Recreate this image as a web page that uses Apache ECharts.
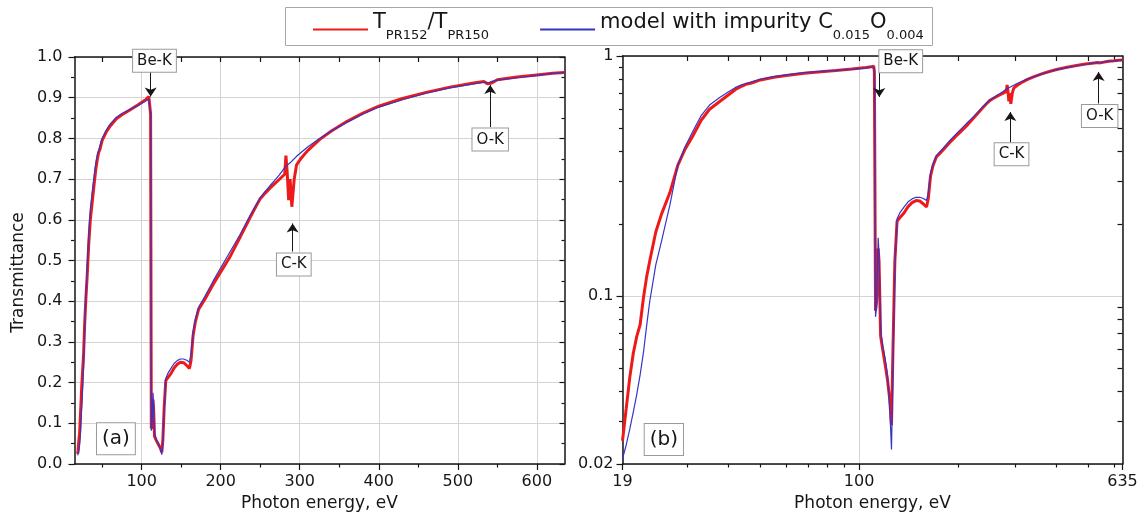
<!DOCTYPE html>
<html>
<head>
<meta charset="utf-8">
<script src="https://cdn.jsdelivr.net/npm/echarts@6/dist/echarts.min.js"></script>
<style>html,body{margin:0;padding:0;background:#fff}#c{width:1141px;height:513px}</style>
</head>
<body>
<div id="c"></div>
<script>
// ---- data ----
const energy = [19,19.5,20,20.5,21,21.5,22,22.5,23,24,25,26.5,28,29.5,31,33,35,37.5,40,42,44,45.5,47,50,55,60,68,75,85,95,105,109,110.8,111.3,112.2,113,114.3,115,116.3,118,120,122,124,125.5,126.8,128.5,130.5,133,137,141,145,149,153,157,160.5,162.5,165,168,172,180,190,200,212,224,237,244,250,256,262,268,274,281,282.5,284,286,287.8,290,293,296,302,310,325,340,360,380,400,430,460,490,520,533,538,543,550,575,600,620,635];
const measured = [0.025,0.034,0.046,0.058,0.068,0.076,0.098,0.12,0.14,0.185,0.22,0.27,0.35,0.41,0.46,0.54,0.60,0.645,0.69,0.725,0.75,0.765,0.772,0.795,0.815,0.83,0.848,0.858,0.87,0.882,0.895,0.903,0.906,0.86,0.087,0.095,0.158,0.14,0.068,0.06,0.052,0.045,0.037,0.029,0.06,0.14,0.205,0.212,0.222,0.236,0.245,0.25,0.249,0.242,0.235,0.255,0.315,0.35,0.38,0.405,0.44,0.472,0.51,0.555,0.605,0.631,0.652,0.665,0.677,0.688,0.699,0.712,0.758,0.72,0.648,0.70,0.632,0.70,0.735,0.752,0.77,0.797,0.818,0.842,0.862,0.879,0.898,0.913,0.926,0.936,0.94,0.934,0.936,0.944,0.951,0.956,0.96,0.962];
const model = [0.021,0.024,0.028,0.033,0.039,0.047,0.058,0.075,0.095,0.135,0.17,0.24,0.35,0.42,0.48,0.565,0.625,0.67,0.71,0.74,0.76,0.77,0.78,0.80,0.82,0.835,0.852,0.861,0.871,0.88,0.892,0.897,0.896,0.86,0.082,0.09,0.175,0.15,0.072,0.062,0.055,0.047,0.034,0.023,0.05,0.13,0.21,0.222,0.235,0.247,0.254,0.258,0.258,0.255,0.25,0.27,0.325,0.355,0.385,0.412,0.448,0.482,0.522,0.562,0.61,0.634,0.654,0.669,0.683,0.696,0.71,0.728,0.731,0.734,0.737,0.74,0.744,0.75,0.756,0.766,0.779,0.80,0.818,0.84,0.86,0.877,0.895,0.911,0.924,0.934,0.938,0.936,0.94,0.943,0.949,0.955,0.96,0.962];
const xTicksLin = [100,200,300,400,500,600];
const xMinorLin = [50,150,250,350,450,550];
const xTicksLog = [19,100,635];
const xMinorLog = [30,40,50,60,70,80,90,200,300,400,500,600];
const yTicksLog = [0.02,0.1,1];
const yMinorLog = [0.03,0.04,0.05,0.06,0.07,0.08,0.09,0.2,0.3,0.4,0.5,0.6,0.7,0.8,0.9];
const seriesNames = ['measured','model'];
// annotations: [label, box energy, box T, arrow energy, arrow from T, arrow to T]
const notesLin = [['Be-K',116.2,0.991,111.4,0.963,0.903],['C-K',292.5,0.49,291,0.522,0.591],['O-K',541,0.797,541,0.828,0.931]];
const notesLog = [['Be-K',133.9,0.95,115.2,0.863,0.675],['C-K',291.4,0.39,289,0.438,0.584],['O-K',541,0.562,537,0.634,0.858]];
const panelLin = ['(a)',67.4,0.062];
const panelLog = ['(b)',25.4,0.0253];

// ---- chart ----
const FONT = 'DejaVu Sans, Liberation Sans, Arial, sans-serif';
const INK = '#161616';
const pairsM = energy.map((e,i)=>[e,measured[i]]);
const pairsB = energy.map((e,i)=>[e,model[i]]);
const axLine = {show:true, lineStyle:{color:INK, width:1.5}};
const tickStyle = {color:INK, width:1.2};
const gridLine = {show:true, lineStyle:{color:'#d3d3d3', width:1}};
const nameStyle = {fontSize:17, color:INK, fontFamily:FONT};
const labStyle = {fontSize:16, color:INK, fontFamily:FONT};
const fmt = v => String(parseFloat(Number(v).toPrecision(4)));

function xAx(grid, type, min, max, pos, o) {
  return Object.assign({gridIndex:grid, type:type, min:min, max:max, position:pos,
    axisLine:{show:false}, axisLabel:{show:false}, splitLine:{show:false}}, o);
}

const xAxis = [
  xAx(0,'value',15,635,'bottom',{axisLine:axLine,
    axisTick:{customValues:xTicksLin,length:6,lineStyle:tickStyle},
    axisLabel:Object.assign({customValues:xTicksLin,margin:10,formatter:fmt},labStyle),
    splitLine:gridLine, name:'Photon energy, eV', nameLocation:'middle', nameGap:29, nameTextStyle:nameStyle}),
  xAx(0,'value',15,635,'bottom',{axisTick:{customValues:xMinorLin,length:3.5,lineStyle:tickStyle}}),
  xAx(0,'value',15,635,'top',{axisLine:axLine,
    axisTick:{customValues:xMinorLin.concat(xTicksLin),inside:true,length:5,lineStyle:tickStyle}}),
  xAx(1,'log',19,635,'bottom',{logBase:10, axisLine:axLine,
    axisTick:{customValues:xTicksLog,length:6,lineStyle:tickStyle},
    axisLabel:Object.assign({customValues:xTicksLog,margin:10,formatter:fmt},labStyle),
    splitLine:gridLine, name:'Photon energy, eV', nameLocation:'middle', nameGap:29, nameTextStyle:nameStyle}),
  xAx(1,'log',19,635,'bottom',{logBase:10, axisTick:{customValues:xMinorLog,length:3.5,lineStyle:tickStyle}}),
  xAx(1,'log',19,635,'top',{logBase:10, axisLine:axLine,
    axisTick:{customValues:xMinorLog.concat([100]),inside:true,length:5,lineStyle:tickStyle}})
];

const yAxis = [
  {gridIndex:0, type:'value', min:0, max:1, interval:0.1, position:'left', axisLine:axLine,
    axisTick:{length:6,lineStyle:tickStyle}, minorTick:{show:true,splitNumber:2,length:3.5,lineStyle:tickStyle},
    axisLabel:Object.assign({margin:12, formatter:v=>Number(v).toFixed(1)},labStyle),
    splitLine:gridLine, name:'Transmittance', nameLocation:'middle', nameGap:47,
    nameTextStyle:Object.assign({padding:[0,24,0,0]},nameStyle)},
  {gridIndex:0, type:'value', min:0, max:1, interval:0.1, position:'right', axisLine:axLine,
    axisTick:{inside:true,length:5,lineStyle:tickStyle}, minorTick:{show:true,splitNumber:2,length:3,lineStyle:tickStyle},
    axisLabel:{show:false}, splitLine:{show:false}},
  {gridIndex:1, type:'log', logBase:10, min:0.02, max:1, position:'left', axisLine:axLine,
    axisTick:{customValues:yTicksLog,length:6,lineStyle:tickStyle},
    axisLabel:Object.assign({customValues:yTicksLog,margin:9,formatter:fmt},labStyle),
    splitLine:gridLine},
  {gridIndex:1, type:'log', logBase:10, min:0.02, max:1, position:'left', axisLine:{show:false},
    axisTick:{customValues:yMinorLog,length:3.5,lineStyle:tickStyle}, axisLabel:{show:false}, splitLine:{show:false}},
  {gridIndex:1, type:'log', logBase:10, min:0.02, max:1, position:'right', axisLine:axLine,
    axisTick:{customValues:yMinorLog,inside:true,length:5,lineStyle:tickStyle}, axisLabel:{show:false}, splitLine:{show:false}}
];

function marks(notes, panel) {
  const boxLabel = (fs, pad) => ({show:true, position:'inside', formatter:'{b}', color:INK, fontFamily:FONT,
    fontSize:fs, backgroundColor:'#fff', borderColor:'#9a9a9a', borderWidth:1, padding:pad});
  const pts = notes.map(n => ({name:n[0], coord:[n[1],n[2]], label:boxLabel(15,[4,4,3,4])}));
  pts.push({name:panel[0], coord:[panel[1],panel[2]], label:boxLabel(20,[6,5,5,5])});
  return {
    markPoint:{silent:true, symbol:'rect', symbolSize:1, itemStyle:{color:'rgba(0,0,0,0)'}, data:pts, z:10},
    markLine:{silent:true, symbol:['none','arrow'], symbolSize:9, label:{show:false},
      lineStyle:{color:INK, width:1, type:'solid'}, emphasis:{disabled:true},
      data:notes.map(n => [{coord:[n[3],n[4]]},{coord:[n[3],n[5]]}])}
  };
}

function mkSeries(xi, yi, notes, panel) {
  return [
    {name:seriesNames[0], type:'line', xAxisIndex:xi, yAxisIndex:yi, data:pairsM, symbol:'none',
      lineStyle:{color:'#ee1a1a', width:3}, itemStyle:{color:'#ee1a1a'}, z:2},
    Object.assign({name:seriesNames[1], type:'line', xAxisIndex:xi, yAxisIndex:yi, data:pairsB, symbol:'none',
      lineStyle:{color:'#3535c8', width:1.2}, itemStyle:{color:'#3535c8'}, z:3}, marks(notes, panel))
  ];
}

const chart = echarts.init(document.getElementById('c'), null, {renderer:'canvas'});
chart.setOption({
  animation:false,
  backgroundColor:'#fff',
  graphic:[{type:'rect', left:285, top:7, z:0, silent:true,
    shape:{width:647, height:38}, style:{fill:'#fff', stroke:'#a8a8a8', lineWidth:1}}],
  grid:[
    {left:74.5, top:57, width:490, height:407, containLabel:false, outerBoundsMode:'none'},
    {left:622.5, top:56, width:500, height:408, containLabel:false, outerBoundsMode:'none'}
  ],
  legend:{left:312, top:3, itemWidth:55, itemHeight:14, itemGap:50, padding:0, z:5,
    data:seriesNames, selectedMode:false, itemStyle:{opacity:0, borderWidth:0},
    formatter: n => n === seriesNames[0] ? '{m|T}{s|PR152}{m|/T}{s|PR150}' : '{m|model with impurity C}{s|0.015}{m|O}{s|0.004}',
    textStyle:{fontFamily:FONT, color:INK, fontSize:21,
      rich:{m:{fontSize:21, fontFamily:FONT, color:INK, verticalAlign:'bottom', lineHeight:25, padding:[9,0,9,0]},
            s:{fontSize:13, fontFamily:FONT, color:INK, verticalAlign:'bottom', lineHeight:15}}}},
  xAxis:xAxis,
  yAxis:yAxis,
  series: mkSeries(0,0,notesLin,panelLin).concat(mkSeries(3,2,notesLog,panelLog))
});
</script>
</body>
</html>
